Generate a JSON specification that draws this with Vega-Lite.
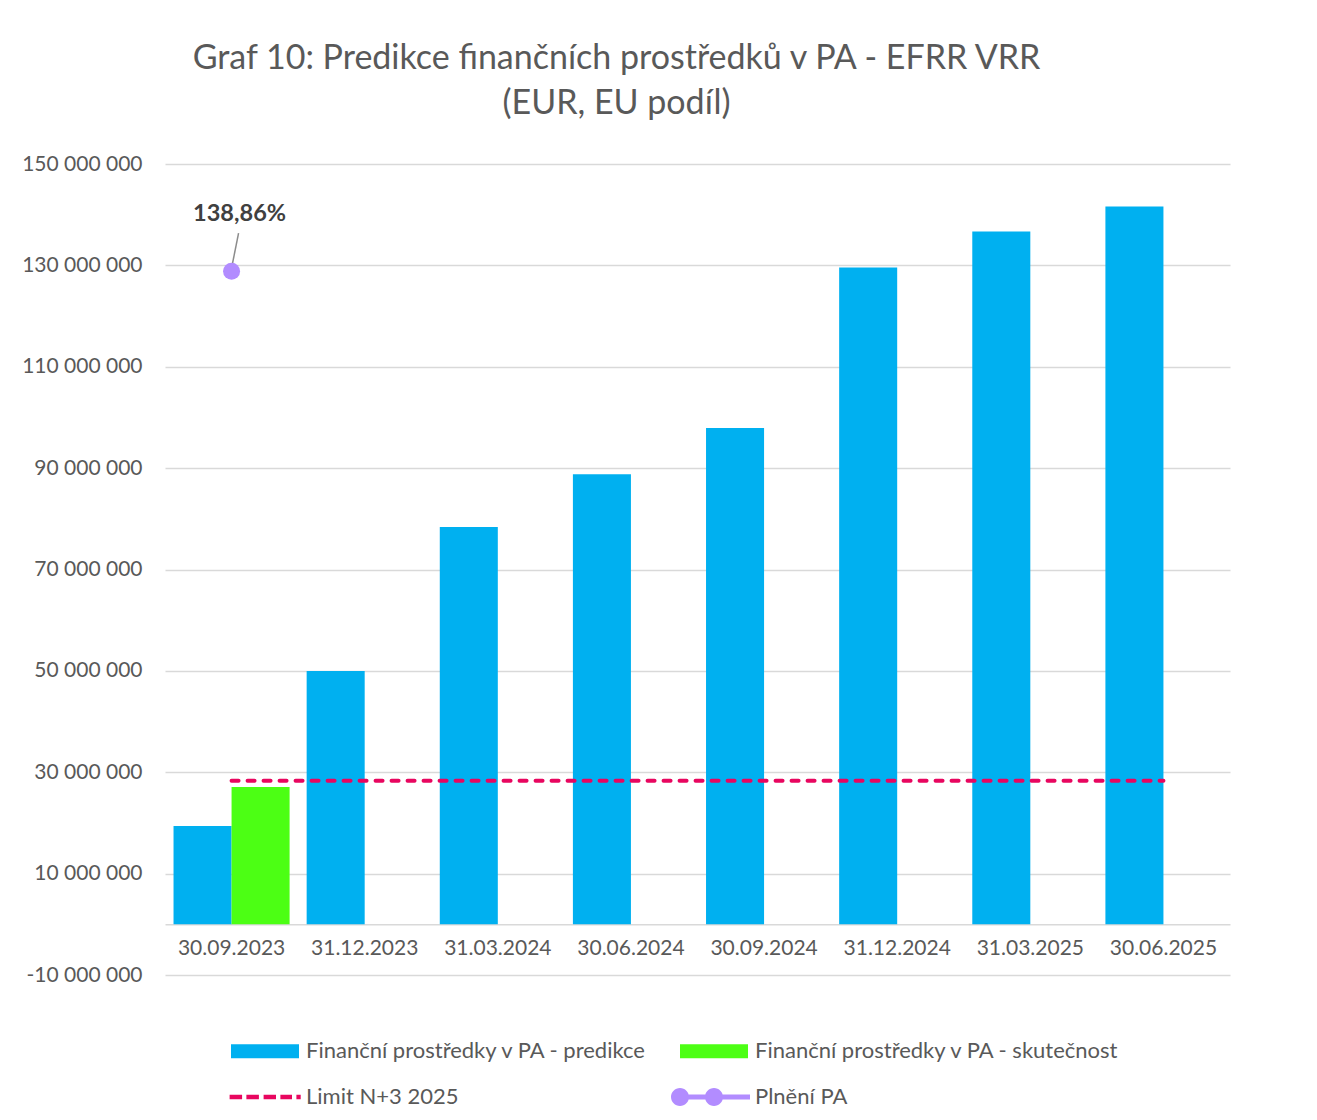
{
  "$schema": "https://vega.github.io/schema/vega-lite/v6.json",
  "autosize": {"type": "none"},
  "width": 1065,
  "height": 811,
  "padding": {"left": 165, "top": 164, "right": 87, "bottom": 145},
  "background": "white",
  "config": {
    "locale": {"number": {"decimal": ",", "thousands": " ", "grouping": [3], "currency": ["", ""], "minus": "-"}},
    "font": "Lato",
    "view": {"stroke": null}
  },
  "title": {
    "text": ["Graf 10: Predikce finančních prostředků v PA - EFRR VRR", "(EUR, EU podíl)"],
    "anchor": "middle",
    "dx": -81,
    "font": "Lato",
    "fontSize": 34,
    "fontWeight": "normal",
    "color": "#595959",
    "lineHeight": 45,
    "offset": 32
  },
  "data": {
    "values": [
      {"date": "30.09.2023", "series": "Finanční prostředky v PA - predikce", "value": 19400000},
      {"date": "31.12.2023", "series": "Finanční prostředky v PA - predikce", "value": 50000000},
      {"date": "31.03.2024", "series": "Finanční prostředky v PA - predikce", "value": 78400000},
      {"date": "30.06.2024", "series": "Finanční prostředky v PA - predikce", "value": 88800000},
      {"date": "30.09.2024", "series": "Finanční prostředky v PA - predikce", "value": 97900000},
      {"date": "31.12.2024", "series": "Finanční prostředky v PA - predikce", "value": 129600000},
      {"date": "31.03.2025", "series": "Finanční prostředky v PA - predikce", "value": 136700000},
      {"date": "30.06.2025", "series": "Finanční prostředky v PA - predikce", "value": 141600000},
      {"date": "30.09.2023", "series": "Finanční prostředky v PA - skutečnost", "value": 27100000},
      {"date": "30.09.2023", "series": "Limit N+3 2025", "value": 28300000},
      {"date": "31.12.2023", "series": "Limit N+3 2025", "value": 28300000},
      {"date": "31.03.2024", "series": "Limit N+3 2025", "value": 28300000},
      {"date": "30.06.2024", "series": "Limit N+3 2025", "value": 28300000},
      {"date": "30.09.2024", "series": "Limit N+3 2025", "value": 28300000},
      {"date": "31.12.2024", "series": "Limit N+3 2025", "value": 28300000},
      {"date": "31.03.2025", "series": "Limit N+3 2025", "value": 28300000},
      {"date": "30.06.2025", "series": "Limit N+3 2025", "value": 28300000},
      {"date": "30.09.2023", "series": "Plnění PA", "value": 1.3886}
    ]
  },
  "layer": [
    {
      "layer": [
        {
          "transform": [{"filter": "indexof(datum.series, 'Finanční') == 0"}],
          "mark": {"type": "bar"},
          "encoding": {
            "x": {
              "field": "date",
              "type": "nominal",
              "sort": null,
              "scale": {"paddingInner": 0, "paddingOuter": 0},
              "axis": {
                "title": null,
                "offset": -50.7,
                "domainColor": "#d9d9d9",
                "domainWidth": 1.5,
                "ticks": false,
                "labelAngle": 0,
                "labelFont": "Lato",
                "labelFontSize": 21,
                "labelColor": "#595959",
                "labelPadding": 13
              }
            },
            "xOffset": {
              "field": "series",
              "type": "nominal",
              "scale": {"domain": ["Finanční prostředky v PA - predikce", "Finanční prostředky v PA - skutečnost"], "paddingInner": 0, "paddingOuter": 0.147}
            },
            "y": {
              "field": "value",
              "type": "quantitative",
              "scale": {"domain": [-10000000, 150000000], "nice": false, "zero": false},
              "axis": {
                "title": null,
                "values": [-10000000, 10000000, 30000000, 50000000, 70000000, 90000000, 110000000, 130000000, 150000000],
                "format": ",d",
                "domain": false,
                "ticks": false,
                "gridColor": "#d9d9d9",
                "gridWidth": 1.5,
                "labelFont": "Lato",
                "labelFontSize": 21,
                "labelColor": "#595959",
                "labelPadding": 23
              }
            },
            "fill": {
              "field": "series",
              "type": "nominal",
              "scale": {"domain": ["Finanční prostředky v PA - predikce", "Finanční prostředky v PA - skutečnost"], "range": ["#00B0F0", "#4CFF14"]},
              "legend": null
            }
          }
        },
        {
          "transform": [{"filter": "datum.series == 'Limit N+3 2025'"}],
          "mark": {"type": "line", "color": "#E8065F", "strokeWidth": 4, "strokeDash": [7, 9], "strokeCap": "round"},
          "encoding": {
            "x": {"field": "date", "type": "nominal", "sort": null},
            "y": {"field": "value", "type": "quantitative"}
          }
        },
        {
          "transform": [{"filter": "false"}],
          "mark": {"type": "point", "filled": true, "opacity": 1},
          "encoding": {
            "color": {
              "field": "series",
              "type": "nominal",
              "scale": {
                "domain": ["Finanční prostředky v PA - predikce", "Finanční prostředky v PA - skutečnost", "Limit N+3 2025", "Plnění PA"],
                "range": ["#00B0F0", "#4CFF14", "#E8065F", "#B28CFF"]
              },
              "legend": {
                "title": null,
                "orient": "none",
                "legendX": 77.5,
                "legendY": 864.5,
                "direction": "horizontal",
                "columns": 2,
                "columnPadding": 23,
                "rowPadding": 12,
                "symbolSize": 2025,
                "symbolStrokeWidth": 0,
                "labelOffset": 18.5,
                "labelFont": "Lato",
                "labelFontSize": 22,
                "labelColor": "#595959",
                "labelLimit": 600
              }
            },
            "shape": {
              "field": "series",
              "type": "nominal",
              "scale": {
                "domain": ["Finanční prostředky v PA - predikce", "Finanční prostředky v PA - skutečnost", "Limit N+3 2025", "Plnění PA"],
                "range": [
                  "M -1.511,-0.311 H 1.511 V 0.311 H -1.511 Z",
                  "M -1.511,-0.311 H 1.511 V 0.311 H -1.511 Z",
                  "M -1.573,-0.095 H -1.018 V 0.095 H -1.573 Z M -0.827,-0.095 H -0.271 V 0.095 H -0.827 Z M -0.062,-0.095 H 0.489 V 0.095 H -0.062 Z M 0.684,-0.095 H 1.2 V 0.095 H 0.684 Z M 1.396,-0.095 H 1.587 V 0.095 H 1.396 Z",
                  "M -1.511,-0.111 H 1.6 V 0.111 H -1.511 Z M -1.911,0 A 0.4,0.4 0 1,1 -1.111,0 A 0.4,0.4 0 1,1 -1.911,0 Z M -0.4,0 A 0.4,0.4 0 1,1 0.4,0 A 0.4,0.4 0 1,1 -0.4,0 Z"
                ]
              },
              "legend": {
                "title": null,
                "orient": "none",
                "legendX": 77.5,
                "legendY": 864.5,
                "direction": "horizontal",
                "columns": 2,
                "columnPadding": 23,
                "rowPadding": 12,
                "symbolSize": 2025,
                "symbolStrokeWidth": 0,
                "labelOffset": 18.5,
                "labelFont": "Lato",
                "labelFontSize": 22,
                "labelColor": "#595959",
                "labelLimit": 600
              }
            }
          }
        }
      ]
    },
    {
      "transform": [{"filter": "datum.series == 'Plnění PA'"}],
      "encoding": {
        "x": {"field": "date", "type": "nominal", "sort": null},
        "y": {"field": "value", "type": "quantitative", "scale": {"domain": [0, 1.6], "nice": false, "zero": false}, "axis": null}
      },
      "layer": [
        {
          "mark": {"type": "rule", "color": "#8c8c8c", "strokeWidth": 1.5, "yOffset": -3, "y2Offset": -38, "x2Offset": 7},
          "encoding": {
            "x2": {"field": "date"},
            "y2": {"field": "value"}
          }
        },
        {
          "mark": {"type": "circle", "size": 290, "color": "#B28CFF", "opacity": 1},
          "encoding": {}
        },
        {
          "mark": {"type": "text", "dx": 8, "dy": -57, "font": "Lato", "fontSize": 23.5, "fontWeight": "bold", "color": "#404040"},
          "encoding": {
            "text": {"field": "value", "type": "quantitative", "format": ".2%"}
          }
        }
      ]
    }
  ],
  "resolve": {"scale": {"y": "independent"}}
}
